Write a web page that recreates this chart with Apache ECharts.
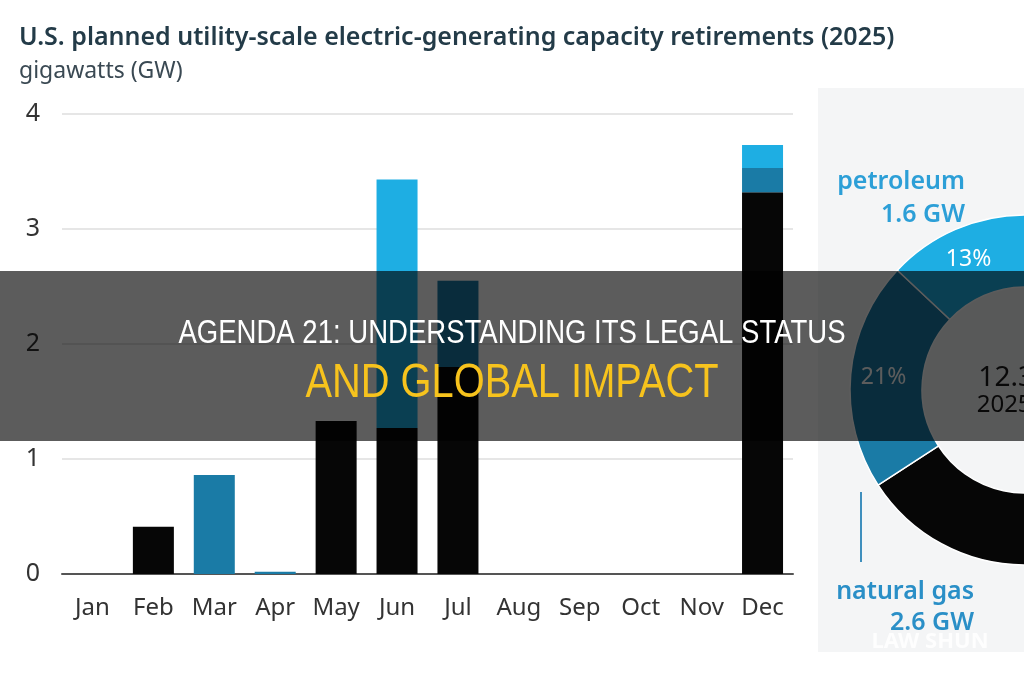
<html>
<head>
<meta charset="utf-8">
<title>U.S. planned capacity retirements (2025)</title>
<script src="https://cdn.jsdelivr.net/npm/echarts@6/dist/echarts.min.js"></script>
<style>
  html, body { margin: 0; padding: 0; background: #fff; }
  #main { width: 1024px; height: 680px; }
</style>
</head>
<body>
<div id="main"></div>
<script>
// months on the x axis
var months = ['Jan', 'Feb', 'Mar', 'Apr', 'May', 'Jun', 'Jul', 'Aug', 'Sep', 'Oct', 'Nov', 'Dec'];
// GW per month, stacked
var coal      = [0, 0.41, 0,    0,    1.33, 1.27, 1.80, 0, 0, 0, 0, 3.32];
var gas       = [0, 0,    0.86, 0.02, 0,    0,    0.75, 0, 0, 0, 0, 0.21];
var petroleum = [0, 0,    0,    0,    0,    2.16, 0,    0, 0, 0, 0, 0.20];
// donut: yearly totals
var shareNames  = ['coal', 'natural gas', 'petroleum'];
var shareValues = [8.1, 2.6, 1.6];
var totalText = ['12.3 GW', '2025 total'];

var cCoal = '#060606', cGas = '#1a7ba6', cPet = '#1eaee3';

var chart = echarts.init(document.getElementById('main'));

var pieData = [];
for (var i = 0; i < shareNames.length; i++) {
  pieData.push({ name: shareNames[i], value: shareValues[i],
    itemStyle: { color: [cCoal, cGas, cPet][i] } });
}

var option = {
  backgroundColor: '#ffffff',
  animation: false,
  title: {
    text: 'U.S. planned utility-scale electric-generating capacity retirements (2025)',
    subtext: 'gigawatts (GW)',
    left: 14, top: 20, itemGap: 10,
    textStyle: { fontFamily: 'Noto Sans', fontSize: 25, fontWeight: 600, color: '#233b48' },
    subtextStyle: { fontFamily: 'Noto Sans', fontSize: 23, color: '#3a4953' }
  },
  grid: { left: 62, right: 231, top: 114, bottom: 106 },
  xAxis: {
    type: 'category',
    data: months,
    axisTick: { show: false },
    axisLine: { lineStyle: { color: '#555', width: 2 } },
    axisLabel: { interval: 0, fontFamily: 'Noto Sans', fontSize: 24, color: '#333', margin: 22 }
  },
  yAxis: {
    type: 'value', min: 0, max: 4, interval: 1,
    axisLabel: { fontFamily: 'Noto Sans', fontSize: 25, color: '#333', margin: 22 },
    splitLine: { lineStyle: { color: '#e6e6e6', width: 2 } }
  },
  series: [
    { name: 'coal', type: 'bar', stack: 'ret', data: coal, barWidth: 41, itemStyle: { color: cCoal } },
    { name: 'natural gas', type: 'bar', stack: 'ret', data: gas, itemStyle: { color: cGas } },
    { name: 'petroleum', type: 'bar', stack: 'ret', data: petroleum, itemStyle: { color: cPet } },
    {
      type: 'pie',
      center: [1025, 390],
      radius: [103, 175],
      startAngle: 90,
      percentPrecision: 0,
      itemStyle: { borderColor: '#ffffff', borderWidth: 1.5 },
      label: {
        position: 'inside', formatter: '{d}%',
        fontFamily: 'Noto Sans', fontSize: 23, color: '#ffffff'
      },
      labelLine: { show: false },
      data: pieData,
      z: 3
    }
  ],
  graphic: [
    { type: 'rect', z: -10, shape: { x: 818, y: 88, width: 220, height: 564 },
      style: { fill: '#f4f5f6' } },
    { type: 'text', z: 5, style: { text: totalText[0], x: 1033, y: 378, textAlign: 'center', textVerticalAlign: 'middle',
      font: '28px "Noto Sans"', fill: '#1a1a1a' } },
    { type: 'text', z: 5, style: { text: totalText[1], x: 1033, y: 405, textAlign: 'center', textVerticalAlign: 'middle',
      font: '24px "Noto Sans"', fill: '#1a1a1a' } },
    { type: 'text', z: 5, style: { text: shareNames[2] + '\n' + shareValues[2] + ' GW', x: 965, y: 165, textAlign: 'right',
      font: '600 25px "Noto Sans"', fill: '#2c9fd7', lineHeight: 33 } },
    { type: 'text', z: 5, style: { text: shareNames[1] + '\n' + shareValues[1].toFixed(1) + ' GW', x: 974, y: 576, textAlign: 'right',
      font: '600 25px "Noto Sans"', fill: '#2a8fc7', lineHeight: 31 } },
    { type: 'line', z: 5, shape: { x1: 861, y1: 492, x2: 861, y2: 562 },
      style: { stroke: '#3f8fbd', lineWidth: 2 } },
    { type: 'text', z: 4, style: { text: 'LAW SHUN', x: 930, y: 642, textAlign: 'center', textVerticalAlign: 'middle',
      font: 'bold 22px "Noto Sans"', fill: 'rgba(255,255,255,0.85)' } },
    // dark banner across the middle
    { type: 'rect', z: 100, shape: { x: 0, y: 271, width: 1024, height: 170 },
      style: { fill: 'rgba(0,0,0,0.64)' } },
    { type: 'text', z: 101, x: 512, y: 334, scaleX: 0.81,
      style: { text: 'AGENDA 21: UNDERSTANDING ITS LEGAL STATUS', x: 0, y: 0,
        textAlign: 'center', textVerticalAlign: 'middle', font: '34px "Liberation Sans"', fill: '#ffffff' } },
    { type: 'text', z: 101, x: 512, y: 384, scaleX: 0.83,
      style: { text: 'AND GLOBAL IMPACT', x: 0, y: 0,
        textAlign: 'center', textVerticalAlign: 'middle', font: '48px "Liberation Sans"', fill: '#f7c31d' } }
  ]
};

chart.setOption(option);
</script>
</body>
</html>
